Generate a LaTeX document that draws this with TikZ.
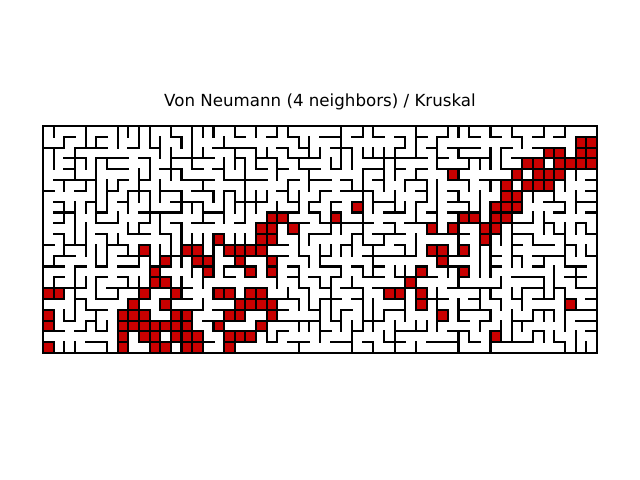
\documentclass[tikz,border=0pt]{standalone}
\usepackage{fontspec}
\setmainfont{DejaVu Sans}
\definecolor{blockred}{RGB}{200,0,0}
\newcount\nedges
\def\mazefind#1{\edef\mazeroot{#1}\mazeloop}
\def\mazeloop{\edef\mazenext{\csname p\mazeroot\endcsname}%
  \ifnum\mazenext=\mazeroot\relax\else\let\mazeroot\mazenext\expandafter\mazeloop\fi}

\begin{document}
\begin{tikzpicture}[x=0.72pt, y=-0.72pt,
  wall/.style={line width=1.5pt, line cap=rect},
  blocked/.style={draw=black, fill=blockred, line width=1.5pt}]
\useasboundingbox (0,0) rectangle (640,480);
\node[anchor=base, font=\fontsize{12}{14}\selectfont] (title) at (320,106.5) {Von Neumann (4 neighbors) / Kruskal};
\begin{scope}[shift={(43,126)}, x=7.671pt, y=-7.783pt]
\pgfmathsetseed{52}
\foreach \i in {0,...,1091} {\expandafter\xdef\csname p\i\endcsname{\i}}
\foreach \row/\col in {1/50,1/51,2/47,2/48,2/50,2/51,3/45,3/46,3/48,3/49,3/50,3/51,%
  4/38,4/44,4/46,4/47,4/48,5/43,5/45,5/46,5/47,6/43,6/44,7/29,7/42,7/43,7/44,%
  8/21,8/22,8/27,8/39,8/40,8/42,8/43,9/20,9/21,9/23,9/36,9/38,9/41,9/42,%
  10/16,10/20,10/21,10/41,11/9,11/13,11/14,11/17,11/18,11/19,11/20,11/36,11/37,11/39,%
  12/11,12/14,12/15,12/18,12/21,12/37,13/10,13/15,13/19,13/21,13/35,13/39,%
  14/10,14/11,14/34,15/0,15/1,15/9,15/12,15/16,15/17,15/19,15/20,15/32,15/33,15/35,%
  16/8,16/11,16/18,16/19,16/20,16/21,16/35,16/49,%
  17/0,17/7,17/8,17/9,17/12,17/13,17/17,17/18,17/21,17/37,%
  18/0,18/7,18/8,18/9,18/10,18/11,18/12,18/13,18/16,18/20,%
  19/7,19/9,19/10,19/12,19/13,19/14,19/17,19/18,19/19,19/42,%
  20/0,20/7,20/10,20/11,20/13,20/14,20/17} {
  \expandafter\xdef\csname k\the\numexpr\row*52+\col\relax\endcsname{1}
}
% edges between neighbouring cells
\global\nedges=0
\foreach \row in {0,...,20} {
  \foreach \col in {0,...,51} {
    \edef\ca{\the\numexpr\row*52+\col\relax}
    \ifnum\col<51
      \expandafter\xdef\csname ea\the\nedges\endcsname{\ca}
      \expandafter\xdef\csname eb\the\nedges\endcsname{\the\numexpr\ca+1\relax}
      \expandafter\xdef\csname pe\the\nedges\endcsname{\the\nedges}
      \global\advance\nedges by 1
    \fi
    \ifnum\row<20
      \expandafter\xdef\csname ea\the\nedges\endcsname{\ca}
      \expandafter\xdef\csname eb\the\nedges\endcsname{\the\numexpr\ca+52\relax}
      \expandafter\xdef\csname pe\the\nedges\endcsname{\the\nedges}
      \global\advance\nedges by 1
    \fi
  }
}
\foreach \j in {2110,2109,...,1} {
  \pgfmathtruncatemacro\pick{random(0,\j)}
  \edef\mazetmp{\csname pe\j\endcsname}
  \expandafter\xdef\csname pe\j\endcsname{\csname pe\pick\endcsname}
  \expandafter\xdef\csname pe\pick\endcsname{\mazetmp}
}
% Kruskal
\foreach \j in {0,...,2110} {
  \edef\edgeid{\csname pe\j\endcsname}
  \edef\ca{\csname ea\edgeid\endcsname}
  \edef\cb{\csname eb\edgeid\endcsname}
  \ifcsname k\ca\endcsname\else\ifcsname k\cb\endcsname\else
    \mazefind\ca\let\rootA\mazeroot
    \mazefind\cb\let\rootB\mazeroot
    \ifnum\rootA=\rootB\relax\else
      \expandafter\xdef\csname p\rootA\endcsname{\rootB}
      \expandafter\xdef\csname o\edgeid\endcsname{1}
    \fi
  \fi\fi
}
\global\nedges=0
\foreach \row in {0,...,20} {
  \foreach \col in {0,...,51} {
    \ifnum\col<51
      \ifcsname o\the\nedges\endcsname\else\draw[wall] (\col+1,\row) -- (\col+1,\row+1);\fi
      \global\advance\nedges by 1
    \fi
    \ifnum\row<20
      \ifcsname o\the\nedges\endcsname\else\draw[wall] (\col,\row+1) -- (\col+1,\row+1);\fi
      \global\advance\nedges by 1
    \fi
  }
}
\foreach \row/\col in {1/50,1/51,2/47,2/48,2/50,2/51,3/45,3/46,3/48,3/49,3/50,3/51,%
  4/38,4/44,4/46,4/47,4/48,5/43,5/45,5/46,5/47,6/43,6/44,7/29,7/42,7/43,7/44,%
  8/21,8/22,8/27,8/39,8/40,8/42,8/43,9/20,9/21,9/23,9/36,9/38,9/41,9/42,%
  10/16,10/20,10/21,10/41,11/9,11/13,11/14,11/17,11/18,11/19,11/20,11/36,11/37,11/39,%
  12/11,12/14,12/15,12/18,12/21,12/37,13/10,13/15,13/19,13/21,13/35,13/39,%
  14/10,14/11,14/34,15/0,15/1,15/9,15/12,15/16,15/17,15/19,15/20,15/32,15/33,15/35,%
  16/8,16/11,16/18,16/19,16/20,16/21,16/35,16/49,%
  17/0,17/7,17/8,17/9,17/12,17/13,17/17,17/18,17/21,17/37,%
  18/0,18/7,18/8,18/9,18/10,18/11,18/12,18/13,18/16,18/20,%
  19/7,19/9,19/10,19/12,19/13,19/14,19/17,19/18,19/19,19/42,%
  20/0,20/7,20/10,20/11,20/13,20/14,20/17} {
  \draw[blocked] (\col,\row) rectangle ++(1,1);
}
\draw[wall] (0,0) rectangle (52,21);
\end{scope}
\end{tikzpicture}
\end{document}
